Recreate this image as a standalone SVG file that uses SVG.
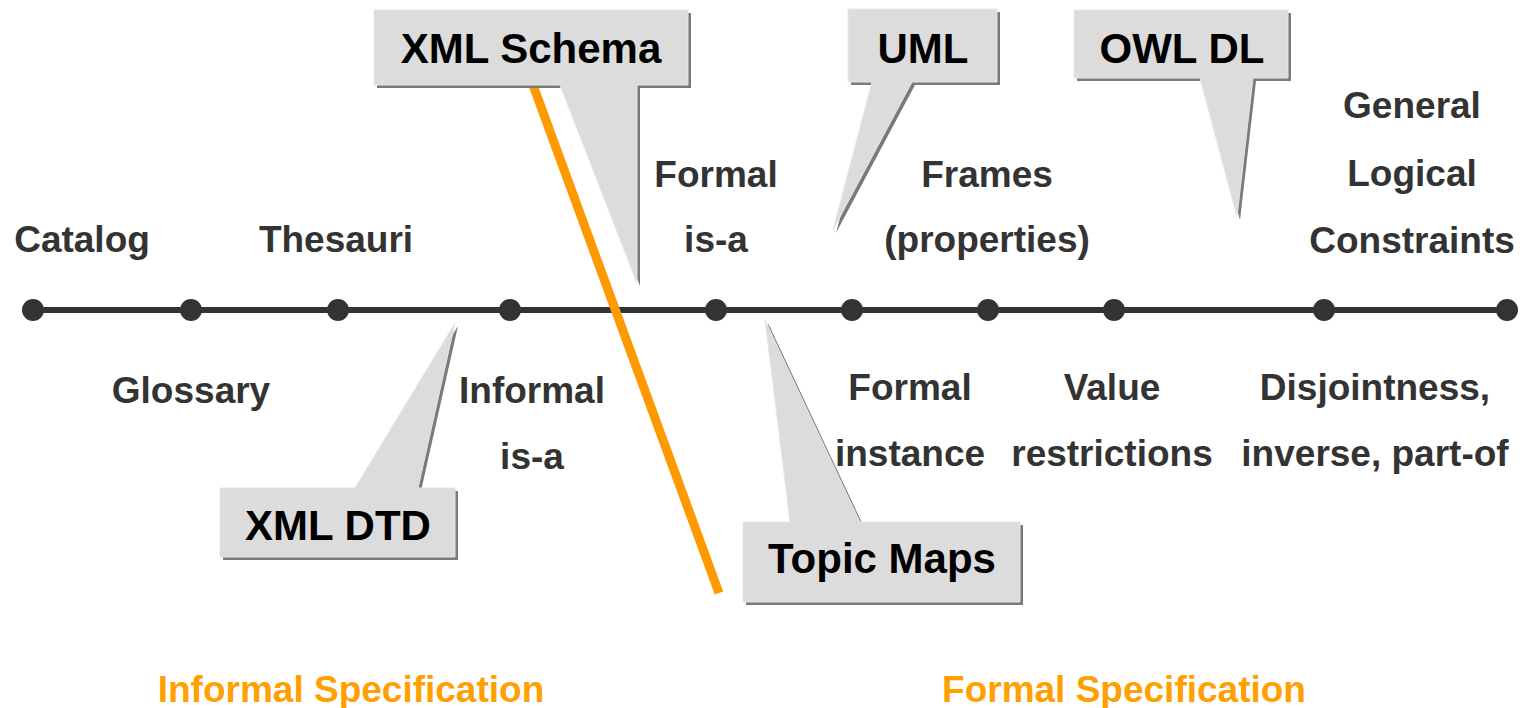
<svg xmlns="http://www.w3.org/2000/svg" width="1526" height="708" viewBox="0 0 1526 708">
<style>
.lbl{font-family:"Liberation Sans",Arial,sans-serif;font-weight:bold;font-size:37px;fill:#333;text-anchor:middle}
.cap{font-family:"Liberation Sans",Arial,sans-serif;font-weight:bold;font-size:42px;fill:#000;text-anchor:middle}
.spec{font-family:"Liberation Sans",Arial,sans-serif;font-weight:bold;font-size:37px;fill:#FFA000;text-anchor:middle}
.shadow{fill:#7a7a7a}
.body{fill:#dcdcdc;stroke:#e6e6e6;stroke-width:1}
.dot{fill:#333}
</style>
<rect width="1526" height="708" fill="#fff"/>
<g id="connectors">
  <line x1="33" y1="310" x2="1507" y2="310" stroke="#333" stroke-width="6"/>
  <line x1="533" y1="85" x2="719" y2="593" stroke="#FF9900" stroke-width="9"/>
</g>
<g id="axis-points">
  <circle class="dot" cx="33" cy="310" r="11"/>
  <circle class="dot" cx="191" cy="310" r="11"/>
  <circle class="dot" cx="338" cy="310" r="11"/>
  <circle class="dot" cx="510" cy="310" r="11"/>
  <circle class="dot" cx="716" cy="310" r="11"/>
  <circle class="dot" cx="852" cy="310" r="11"/>
  <circle class="dot" cx="988" cy="310" r="11"/>
  <circle class="dot" cx="1114" cy="310" r="11"/>
  <circle class="dot" cx="1324" cy="310" r="11"/>
  <circle class="dot" cx="1507" cy="310" r="11"/>
</g>
<g id="labels">
  <text class="lbl" x="82" y="252">Catalog</text>
  <text class="lbl" x="336" y="252">Thesauri</text>
  <text class="lbl" x="191" y="403">Glossary</text>
  <text class="lbl" x="532" y="403">Informal</text>
  <text class="lbl" x="532" y="469">is-a</text>
  <text class="lbl" x="716" y="187">Formal</text>
  <text class="lbl" x="716" y="252">is-a</text>
  <text class="lbl" x="987" y="187">Frames</text>
  <text class="lbl" x="987" y="252">(properties)</text>
  <text class="lbl" x="1412" y="118">General</text>
  <text class="lbl" x="1412" y="186">Logical</text>
  <text class="lbl" x="1412" y="253">Constraints</text>
  <text class="lbl" x="910" y="400">Formal</text>
  <text class="lbl" x="910" y="466">instance</text>
  <text class="lbl" x="1112" y="400">Value</text>
  <text class="lbl" x="1112" y="466">restrictions</text>
  <text class="lbl" x="1375" y="400">Disjointness,</text>
  <text class="lbl" x="1375" y="466">inverse, part-of</text>
</g>
<g id="xml-schema">
  <path class="shadow" d="M377,13 H691 V88 H640 L640,286 L563,88 H377 Z"/>
  <path class="body" d="M374,10 H688 V85 H637 L637,283 L560,85 H374 Z"/>
  <text class="cap" x="531" y="63">XML Schema</text>
</g>
<g id="uml">
  <path class="shadow" d="M851,12 H1000 V85 H915 L836,233 L875,85 H851 Z"/>
  <path class="body" d="M848,9 H997 V82 H912 L833,230 L872,82 H848 Z"/>
  <text class="cap" x="923" y="63">UML</text>
</g>
<g id="owl-dl">
  <path class="shadow" d="M1077,13 H1291 V81 H1256 L1240,220 L1203,81 H1077 Z"/>
  <path class="body" d="M1074,10 H1288 V78 H1253 L1237,217 L1200,78 H1074 Z"/>
  <text class="cap" x="1182" y="63">OWL DL</text>
</g>
<g id="xml-dtd">
  <path class="shadow" d="M223,491 H358 L458,326 L421,491 H458 V560 H223 Z"/>
  <path class="body" d="M220,488 H355 L455,323 L418,488 H455 V557 H220 Z"/>
  <text class="cap" x="338" y="540">XML DTD</text>
</g>
<g id="topic-maps">
  <path class="shadow" d="M746,525 H793 L768,323 L863,525 H1023 V605 H746 Z"/>
  <path class="body" d="M743,522 H790 L765,320 L860,522 H1020 V602 H743 Z"/>
  <text class="cap" x="882" y="573">Topic Maps</text>
</g>
<g id="categories">
  <text class="spec" x="351" y="702">Informal Specification</text>
  <text class="spec" x="1124" y="702">Formal Specification</text>
</g>
</svg>
